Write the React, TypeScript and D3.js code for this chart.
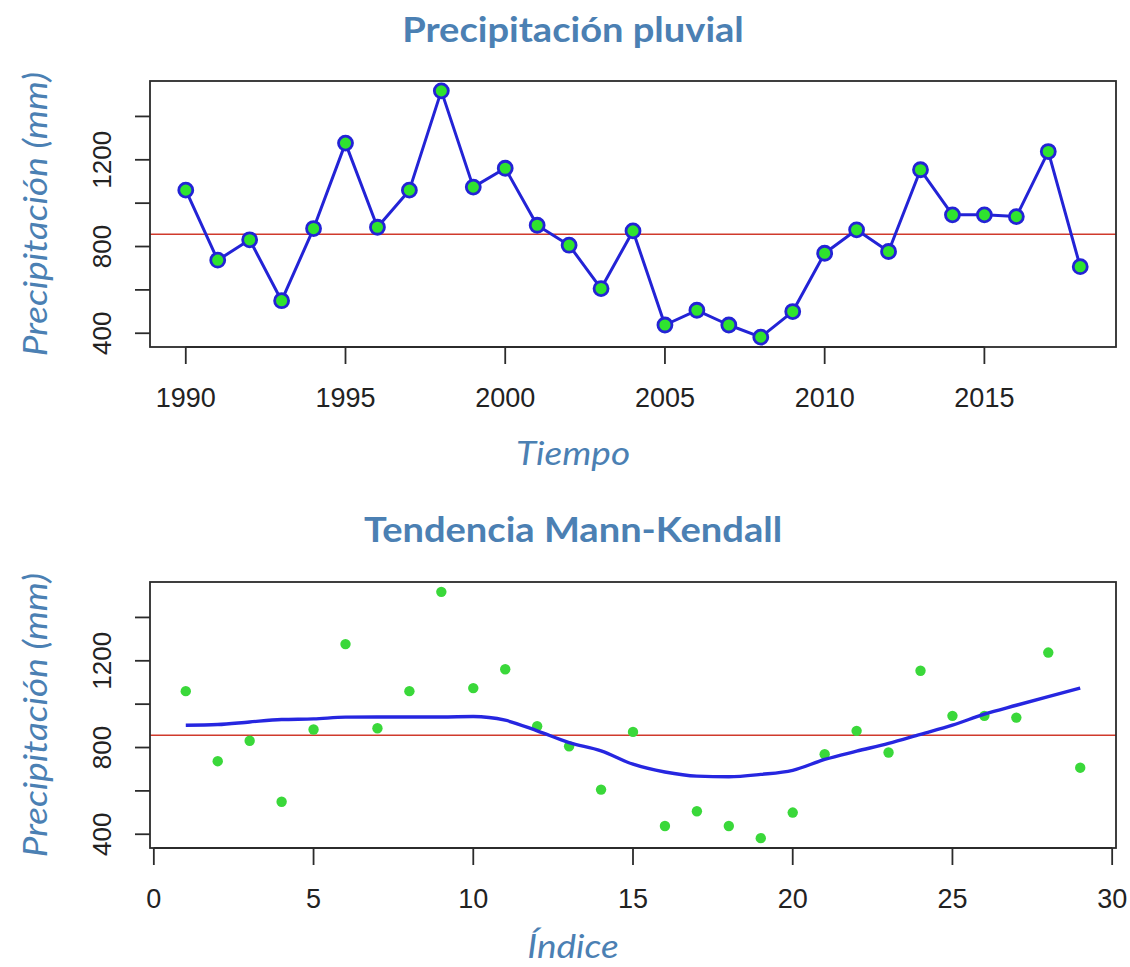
import React from "react";
import * as d3 from "d3";

// Annual rainfall series, 1990–2018 (mm)
const years: number[] = [
  1990, 1991, 1992, 1993, 1994, 1995, 1996, 1997, 1998, 1999,
  2000, 2001, 2002, 2003, 2004, 2005, 2006, 2007, 2008, 2009,
  2010, 2011, 2012, 2013, 2014, 2015, 2016, 2017, 2018,
];
const rainfall: number[] = [
  1060, 737, 831, 550, 883, 1277, 889, 1060, 1518, 1074,
  1161, 898, 806, 606, 872, 438, 506, 438, 382, 500,
  769, 877, 777, 1154, 946, 946, 938, 1238, 707,
];
// Smoothed trend evaluated at each index 1..29
const trend: number[] = [
  903, 906, 918, 929, 932, 940, 941, 941, 941, 943,
  926, 877, 823, 785, 723, 687, 668, 665, 676, 695,
  745, 783, 819, 861, 903, 954, 995, 1035, 1074,
];
const indices: number[] = rainfall.map((_, i) => i + 1);

const yearTicks: number[] = [1990, 1995, 2000, 2005, 2010, 2015];
const indexTicks: number[] = [0, 5, 10, 15, 20, 25, 30];
const yTicks: number[] = [400, 600, 800, 1000, 1200, 1400];
const yTickLabels: number[] = [400, 800, 1200];

const W = 1130;
const H = 967;
const LEFT = 150;
const RIGHT = 1116;
const TITLE_COLOR = "#4b80b3";
const AXIS_COLOR = "#2b2b2b";
const TICK_FONT = "'Liberation Sans', Arial, sans-serif";
const LABEL_FONT = "Lato, 'Open Sans', sans-serif";
const WIDEN = 1.12; // horizontal stretch of the heading/label face

// R-style padded extent (4% on each side)
function padded(ext: [number, number]): [number, number] {
  const d = (ext[1] - ext[0]) * 0.04;
  return [ext[0] - d, ext[1] + d];
}

const meanRain = d3.mean(rainfall) as number;

interface PanelProps {
  top: number;
  bottom: number;
  x: d3.ScaleLinear<number, number>;
  xTicks: number[];
  title: string;
  titleY: number;
  xLabel: string;
  xLabelY: number;
  children: React.ReactNode;
}

function Panel({ top, bottom, x, xTicks, title, titleY, xLabel, xLabelY, children }: PanelProps) {
  const y = d3.scaleLinear().domain(padded(d3.extent(rainfall) as [number, number])).range([bottom, top]);
  const midY = (top + bottom) / 2;
  return (
    <g>
      <text transform={`translate(573,${titleY}) scale(${WIDEN},1)`} textAnchor="middle" fill={TITLE_COLOR}
        fontFamily={LABEL_FONT} fontWeight={700} fontSize={34}>{title}</text>
      {/* mean line */}
      <line x1={LEFT} x2={RIGHT} y1={y(meanRain)} y2={y(meanRain)} stroke="#d03a2c" strokeWidth={1.6} />
      {children}
      <rect x={LEFT} y={top} width={RIGHT - LEFT} height={bottom - top}
        fill="none" stroke={AXIS_COLOR} strokeWidth={1.8} />
      {/* x axis */}
      <line x1={x(xTicks[0])} x2={x(xTicks[xTicks.length - 1])} y1={bottom} y2={bottom}
        stroke={AXIS_COLOR} strokeWidth={1.8} />
      {xTicks.map((t) => (
        <g key={t}>
          <line x1={x(t)} x2={x(t)} y1={bottom} y2={bottom + 17} stroke={AXIS_COLOR} strokeWidth={1.8} />
          <text x={x(t)} y={bottom + 60} textAnchor="middle" fontFamily={TICK_FONT}
            fontSize={27} fill="#222">{t}</text>
        </g>
      ))}
      {/* y axis */}
      {yTicks.map((t) => (
        <line key={t} x1={LEFT - 15} x2={LEFT} y1={y(t)} y2={y(t)} stroke={AXIS_COLOR} strokeWidth={1.8} />
      ))}
      {yTickLabels.map((t) => (
        <text key={t} transform={`translate(111,${y(t)}) rotate(-90)`} textAnchor="middle"
          fontFamily={TICK_FONT} fontSize={26} fill="#222">{t}</text>
      ))}
      <text transform={`translate(47,${midY}) rotate(-90) scale(${WIDEN},1)`} textAnchor="middle"
        fontFamily={LABEL_FONT} fontStyle="italic" fontSize={33} fill={TITLE_COLOR}>
        Precipitación (mm)
      </text>
      <text transform={`translate(573,${xLabelY}) scale(${WIDEN},1)`} textAnchor="middle" fontFamily={LABEL_FONT}
        fontStyle="italic" fontSize={33} fill={TITLE_COLOR}>{xLabel}</text>
    </g>
  );
}

export default function App() {
  const topT = 81, topB = 347;
  const botT = 582, botB = 848;
  const yDom = padded(d3.extent(rainfall) as [number, number]);

  const xYear = d3.scaleLinear().domain(padded([years[0], years[years.length - 1]])).range([LEFT, RIGHT]);
  const yTop = d3.scaleLinear().domain(yDom).range([topB, topT]);

  const xIdx = d3.scaleLinear().domain(padded([indices[0], indices[indices.length - 1]])).range([LEFT, RIGHT]);
  const yBot = d3.scaleLinear().domain(yDom).range([botB, botT]);

  const seriesLine = d3.line<number>()
    .x((_, i) => xYear(years[i]))
    .y((d) => yTop(d));

  const trendLine = d3.line<number>()
    .x((_, i) => xIdx(indices[i]))
    .y((d) => yBot(d))
    .curve(d3.curveMonotoneX);

  return (
    <svg width={W} height={H} style={{ position: "absolute", left: 0, top: 0, background: "#fff" }}>
      <rect width={W} height={H} fill="#fff" />
      <Panel top={topT} bottom={topB} x={xYear} xTicks={yearTicks}
        title="Precipitación pluvial" titleY={42} xLabel="Tiempo" xLabelY={465}>
        <path d={seriesLine(rainfall) || ""} fill="none" stroke="#2323d6" strokeWidth={3} strokeLinejoin="round" />
        {rainfall.map((v, i) => (
          <circle key={i} cx={xYear(years[i])} cy={yTop(v)} r={7}
            fill="#2fe32f" stroke="#2323d6" strokeWidth={2.8} />
        ))}
      </Panel>
      <Panel top={botT} bottom={botB} x={xIdx} xTicks={indexTicks}
        title="Tendencia Mann-Kendall" titleY={542} xLabel="Índice" xLabelY={958}>
        {rainfall.map((v, i) => (
          <circle key={i} cx={xIdx(indices[i])} cy={yBot(v)} r={5.2} fill="#3ad83a" />
        ))}
        <path d={trendLine(trend) || ""} fill="none" stroke="#2626e0" strokeWidth={3.4} />
      </Panel>
    </svg>
  );
}
